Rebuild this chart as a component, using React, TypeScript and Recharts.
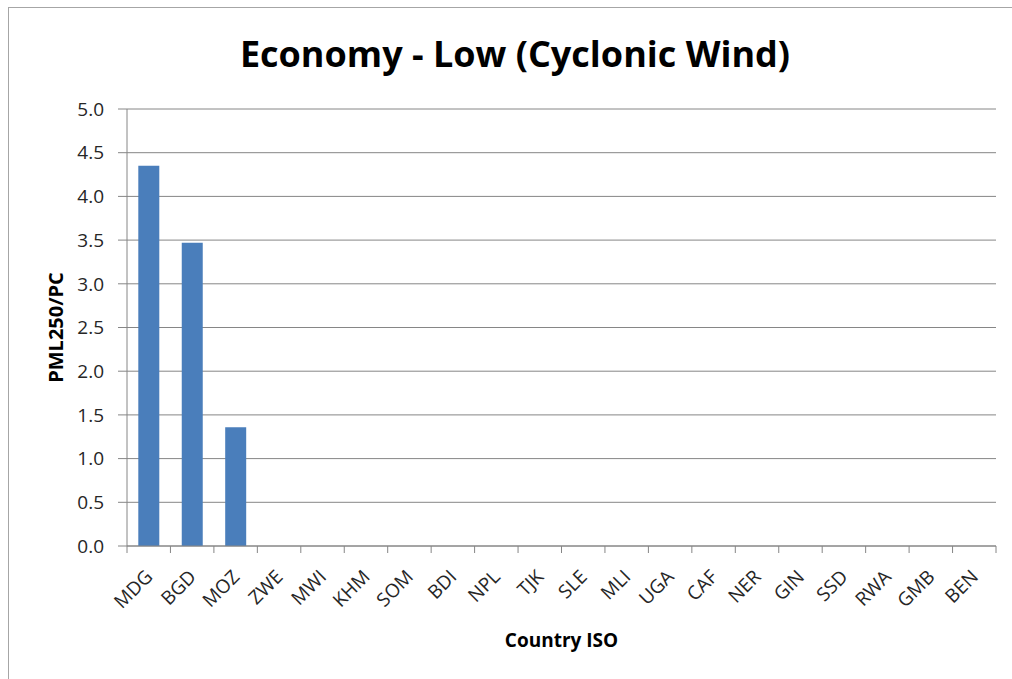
import React from 'react';
import { BarChart, Bar, XAxis, YAxis, CartesianGrid, Label } from 'recharts';

const countries = ['MDG', 'BGD', 'MOZ', 'ZWE', 'MWI', 'KHM', 'SOM', 'BDI', 'NPL', 'TJK', 'SLE', 'MLI', 'UGA', 'CAF', 'NER', 'GIN', 'SSD', 'RWA', 'GMB', 'BEN'];
const pmlValues = [4.35, 3.47, 1.36, 0, 0, 0, 0, 0, 0, 0, 0, 0, 0, 0, 0, 0, 0, 0, 0, 0];
const yTicks = [0, 0.5, 1.0, 1.5, 2.0, 2.5, 3.0, 3.5, 4.0, 4.5, 5.0];

const titleText = 'Economy - Low (Cyclonic Wind)';
const xTitle = 'Country ISO';
const yTitle = 'PML250/PC';

const data = countries.map((c, i) => ({ iso: c, value: pmlValues[i] }));

const FONT = "'Open Sans', sans-serif";
const AXIS = '#868686';
const W = 1012;
const H = 679;
const MARGIN = { top: 109, right: 16, bottom: 73, left: 67 };
const Y_AXIS_W = 60;

const XTick = (props: any) => {
  const { x, y, payload, index } = props;
  const plotW = W - MARGIN.left - Y_AXIS_W - MARGIN.right;
  const half = typeof payload?.offset === 'number' && payload.offset > 0 ? payload.offset : plotW / countries.length / 2;
  const ax = x + 5;
  const ay = y + 32;
  return (
    <g>
      <line x1={x - half} x2={x - half} y1={y} y2={y + 7} stroke={AXIS} strokeWidth={1} />
      {index === countries.length - 1 && (
        <line x1={x + half} x2={x + half} y1={y} y2={y + 7} stroke={AXIS} strokeWidth={1} />
      )}
      <text
        x={ax}
        y={ay}
        transform={`rotate(-45, ${ax}, ${ay})`}
        textAnchor="end"
        fontFamily={FONT}
        fontSize={19}
        fill="#262626"
      >
        {payload.value}
      </text>
    </g>
  );
};

export default function App() {
  return (
    <div style={{ position: 'absolute', left: 0, top: 0, width: W, height: H, overflow: 'hidden', background: '#fff' }}>
      <div
        style={{
          position: 'absolute',
          left: 8,
          top: 7,
          width: 1100,
          height: 800,
          borderLeft: '1.5px solid #a6a6a6',
          borderTop: '1.5px solid #a6a6a6',
          boxSizing: 'border-box',
        }}
      />
      <svg width={W} height={90} style={{ position: 'absolute', left: 0, top: 0 }}>
        <text x={515} y={67} textAnchor="middle" fontFamily={FONT} fontWeight="bold" fontSize={36} fill="#000">
          {titleText}
        </text>
      </svg>
      <div style={{ position: 'absolute', left: 0, top: 0 }}>
        <BarChart width={W} height={H} data={data} margin={MARGIN} barCategoryGap="26%">
          <CartesianGrid vertical={false} stroke={AXIS} strokeWidth={1} />
          <XAxis
            dataKey="iso"
            interval={0}
            tickLine={false}
            tickSize={0}
            tickMargin={0}
            height={60}
            axisLine={{ stroke: AXIS, strokeWidth: 1 }}
            tick={<XTick />}
          >
            <Label
              content={(p: any) => {
                const vb = p.viewBox || {};
                return (
                  <text
                    x={vb.x + vb.width / 2}
                    y={647}
                    textAnchor="middle"
                    fontFamily={FONT}
                    fontWeight="bold"
                    fontSize={19}
                    fill="#000"
                  >
                    {xTitle}
                  </text>
                );
              }}
            />
          </XAxis>
          <YAxis
            width={Y_AXIS_W}
            domain={[0, 5]}
            ticks={yTicks}
            interval={0}
            tickFormatter={(v: number) => v.toFixed(1)}
            tickSize={9}
            tickMargin={14}
            tickLine={{ stroke: AXIS, strokeWidth: 1 }}
            axisLine={{ stroke: AXIS, strokeWidth: 1 }}
            tick={{ fontFamily: FONT, fontSize: 19, fill: '#262626' }}
          >
            <Label
              content={(p: any) => {
                const vb = p.viewBox || {};
                const cx = 55;
                const cy = vb.y + vb.height / 2;
                return (
                  <text
                    x={cx}
                    y={cy}
                    transform={`rotate(-90, ${cx}, ${cy})`}
                    textAnchor="middle"
                    dominantBaseline="central"
                    fontFamily={FONT}
                    fontWeight="bold"
                    fontSize={20}
                    fill="#000"
                  >
                    {yTitle}
                  </text>
                );
              }}
            />
          </YAxis>
          <Bar dataKey="value" fill="#4A7EBB" isAnimationActive={false} />
        </BarChart>
      </div>
    </div>
  );
}
